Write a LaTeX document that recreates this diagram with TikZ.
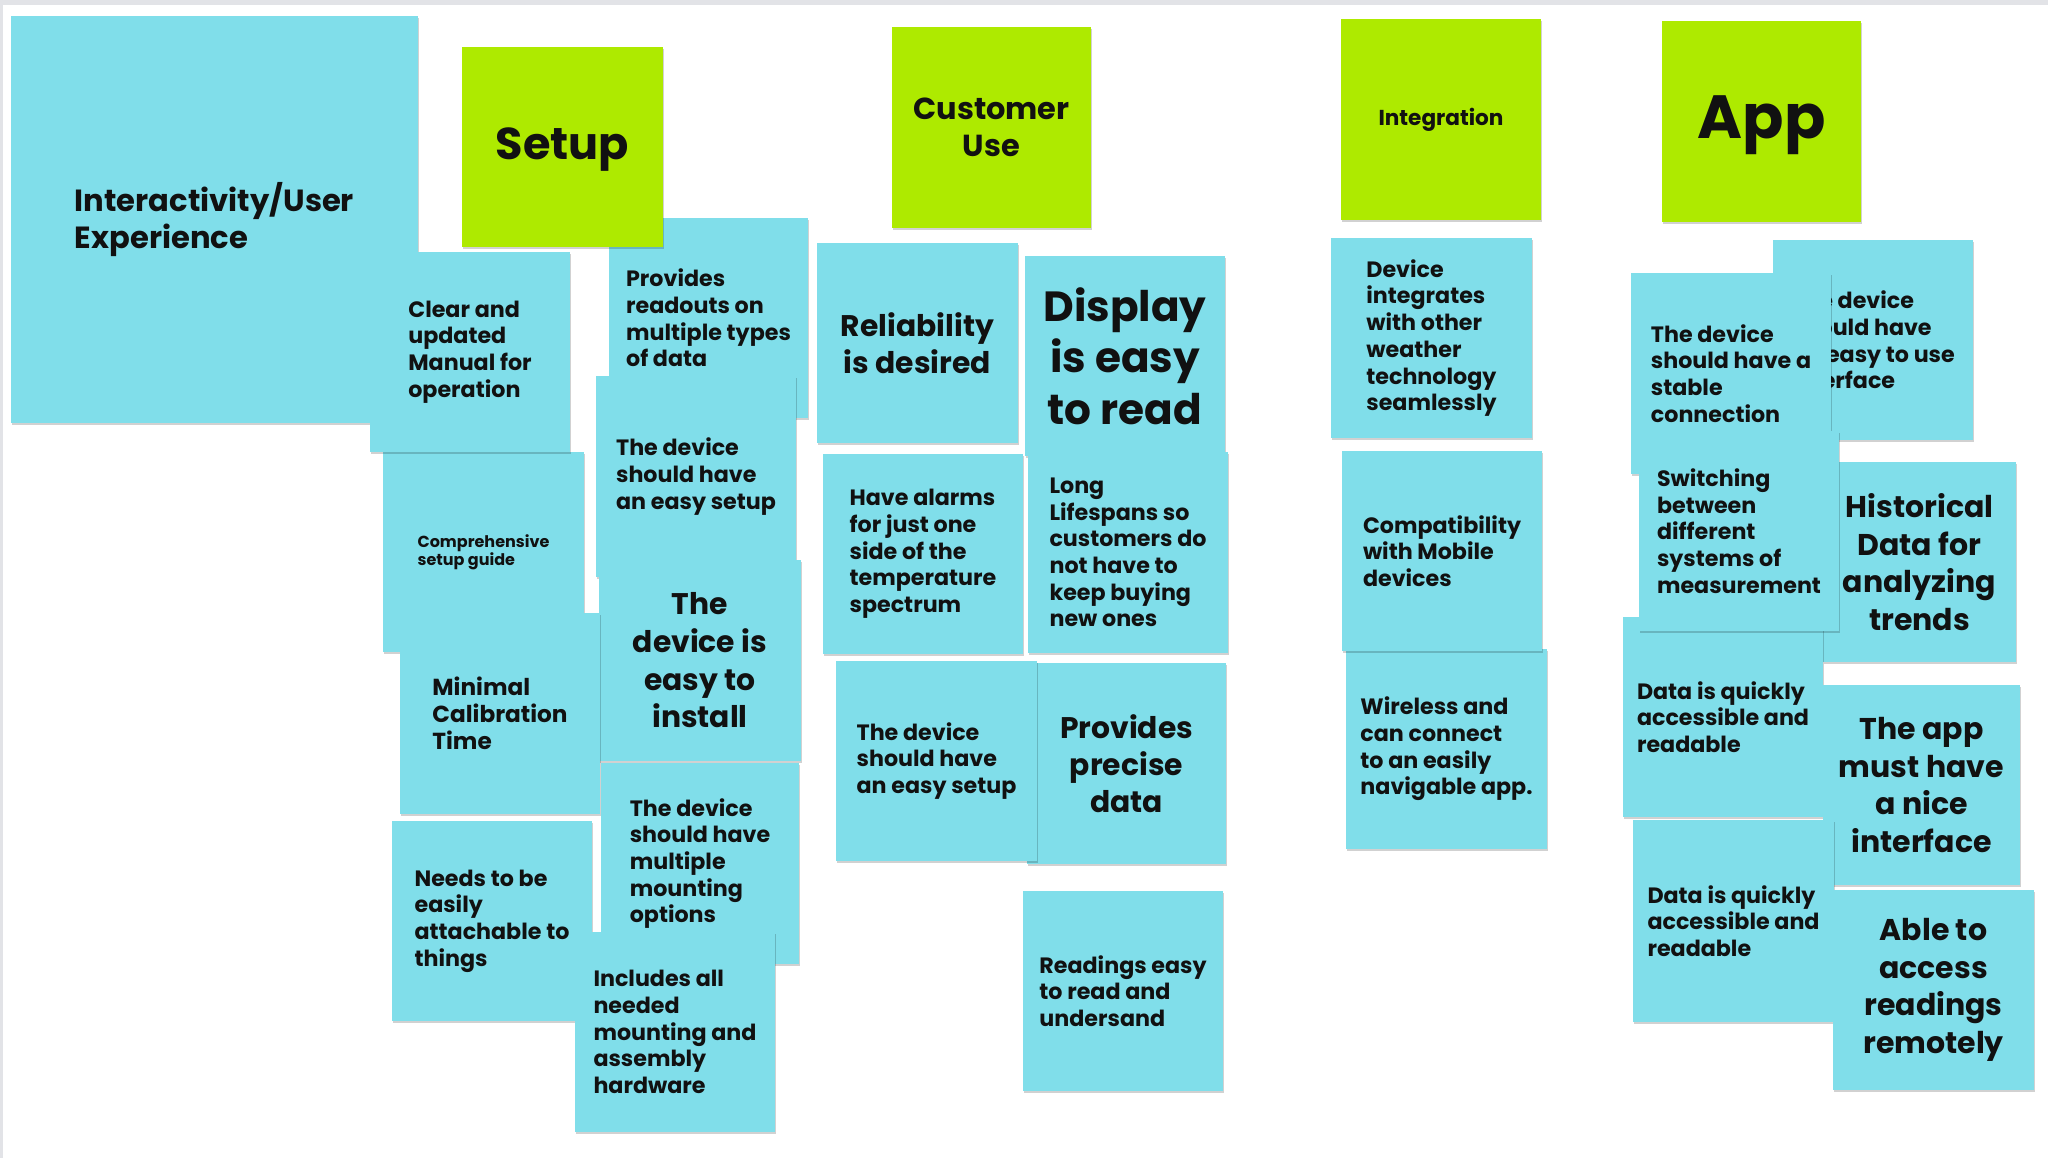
\documentclass[tikz,border=0pt]{standalone}
\usepackage{fontspec}
\setmainfont{Poppins}
\usetikzlibrary{shadows}
\definecolor{notecyan}{HTML}{80DEEA}
\definecolor{notelime}{HTML}{AEEA00}
\definecolor{inkblack}{HTML}{111111}
\definecolor{edgegray}{HTML}{E2E3E7}
\newcommand\sticky[7]{%
  \pgfmathsetmacro\stkw{(#4-#2)*0.5}%
  \pgfmathsetmacro\stkh{(#5-#3)*0.5}%
  \node[#6, minimum width=\stkw pt, minimum height=\stkh pt] (#1) at ({(#2+#4)/2},{(#3+#5)/2}) {#7};%
}
\begin{document}
\begin{tikzpicture}[x=0.5pt,y=-0.5pt,
  note/.style={rectangle, inner sep=0pt, fill=notecyan, text=inkblack, align=left,
    drop shadow={shadow xshift=0.5pt, shadow yshift=-0.9pt, opacity=0.18, fill=black}},
  lime/.style={note, fill=notelime, align=center},
  ctr/.style={align=center},
  txs/.style={font=\bfseries\fontsize{11.1}{13.35}\selectfont},
  txm/.style={font=\bfseries\fontsize{14.9}{18.6}\selectfont},
  txl/.style={font=\bfseries\fontsize{21.1}{25.85}\selectfont},
  txtiny/.style={font=\bfseries\fontsize{8}{9.2}\selectfont}
]
\useasboundingbox (0,0) rectangle (2048,1158);
\fill[white] (0,0) rectangle (2048,1158);
\fill[edgegray] (0,0) rectangle (2048,5);
\fill[edgegray] (0,0) rectangle (3,1158);

% ---------- Interactivity / Setup ----------
\sticky{interact}{11}{16}{418}{423}{note, font=\bfseries\fontsize{15.3}{18.8}\selectfont}{Interactivity/User\\Experience}
\sticky{readouts}{609}{218}{808}{418}{note, txs}{Provides\\readouts on\\multiple types\\of data}
\sticky{setup}{462}{47}{663}{247}{lime, font=\bfseries\fontsize{22.3}{26}\selectfont, text depth=3pt}{Setup}
\sticky{guide}{383}{452}{584}{652}{note, txtiny}{Comprehensive\\setup guide}
\sticky{manual}{370}{252}{570}{452}{note, txs}{Clear and\\updated\\Manual for\\operation}
\sticky{easysetupA}{596}{376}{796}{577}{note, txs}{The device\\should have\\an easy setup}
\sticky{install}{599}{560}{801}{761}{note, ctr, font=\bfseries\fontsize{14.9}{18.85}\selectfont}{The\\device is\\easy to\\install}
\sticky{calib}{400}{613}{600}{814}{note, font=\bfseries\fontsize{11.6}{13.5}\selectfont}{Minimal\\Calibration\\Time}
\sticky{mounting}{601}{763}{799}{964}{note, txs}{The device\\should have\\multiple\\mounting\\options}
\sticky{attach}{392}{821}{592}{1021}{note, txs}{Needs to be\\easily\\attachable to\\things}
\sticky{hardware}{575}{932}{775}{1132}{note, txs}{Includes all\\needed\\mounting and\\assembly\\hardware}

% ---------- Customer Use ----------
\sticky{customer}{892}{27}{1091}{228}{lime, font=\bfseries\fontsize{15.2}{18.5}\selectfont}{Customer\\Use}
\sticky{reliab}{817}{243}{1018}{443}{note, ctr, txm}{Reliability\\is desired}
\sticky{display}{1025}{256}{1225}{456}{note, ctr, txl}{Display\\is easy\\to read}
\sticky{alarms}{823}{454}{1023}{654}{note, txs}{Have alarms\\for just one\\side of the\\temperature\\spectrum}
\sticky{lifespan}{1028}{452}{1228}{653}{note, txs}{Long\\Lifespans so\\customers do\\not have to\\keep buying\\new ones}
\sticky{precise}{1027}{663}{1226}{864}{note, ctr, txm}{Provides\\precise\\data}
\sticky{easysetupB}{836}{661}{1037}{861}{note, txs}{The device\\should have\\an easy setup}
\sticky{readings}{1023}{891}{1223}{1091}{note, txs}{Readings easy\\to read and\\undersand}

% ---------- Integration ----------
\sticky{integration}{1341}{19}{1541}{220}{lime, font=\bfseries\fontsize{10.8}{12.5}\selectfont}{Integration}
\sticky{integrates}{1331}{238}{1532}{438}{note, txs}{Device\\integrates\\with other\\weather\\technology\\seamlessly}
\sticky{wireless}{1346}{649}{1547}{849}{note, txs}{Wireless and\\can connect\\to an easily\\navigable app.}
\sticky{mobile}{1342}{451}{1542}{651}{note, txs}{Compatibility\\with Mobile\\devices}

% ---------- App ----------
\sticky{app}{1662}{21}{1861}{222}{lime, font=\bfseries\fontsize{30.5}{34}\selectfont, text depth=4pt}{App}
\sticky{easyuse}{1773}{240}{1973}{440}{note, txs}{The device\\should have\\an easy to use\\interface}
\sticky{stable}{1631}{273}{1831}{474}{note, txs}{The device\\should have a\\stable\\connection}
\sticky{history}{1823}{462}{2016}{662}{note, ctr, font=\bfseries\fontsize{15}{18.75}\selectfont}{Historical\\Data for\\analyzing\\trends}
\sticky{quickA}{1623}{617}{1823}{817}{note, txs}{Data is quickly\\accessible and\\readable}
\sticky{units}{1639}{431}{1839}{631}{note, txs}{Switching\\between\\different\\systems of\\measurement}
\sticky{nice}{1823}{685}{2020}{885}{note, ctr, font=\bfseries\fontsize{15}{18.75}\selectfont}{The app\\must have\\a nice\\interface}
\sticky{quickB}{1633}{820}{1834}{1022}{note, txs}{Data is quickly\\accessible and\\readable}
\sticky{remote}{1833}{890}{2034}{1090}{note, ctr, font=\bfseries\fontsize{15}{18.75}\selectfont}{Able to\\access\\readings\\remotely}
\end{tikzpicture}
\end{document}
